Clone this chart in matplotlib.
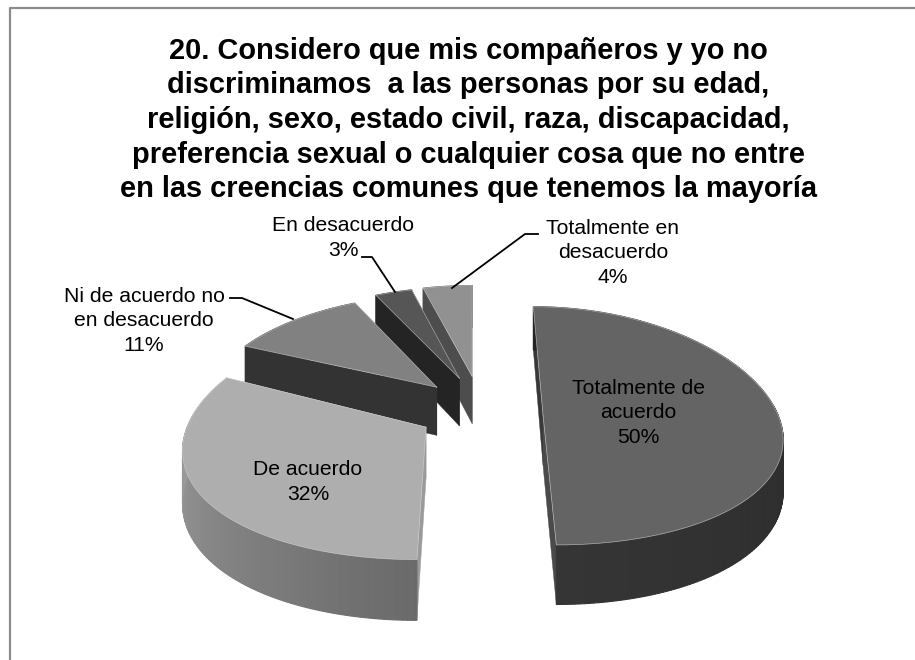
#!/usr/bin/env python
# -*- coding:utf-8 -*-
import numpy as np
import matplotlib
matplotlib.use('Agg')
import matplotlib.pyplot as plt
from matplotlib.patches import Polygon

plt.rcParams['font.family'] = ['Liberation Sans', 'DejaVu Sans']

title = ('20. Considero que mis compañeros y yo no\n'
         'discriminamos  a las personas por su edad,\n'
         'religión, sexo, estado civil, raza, discapacidad,\n'
         'preferencia sexual o cualquier cosa que no entre\n'
         'en las creencias comunes que tenemos la mayoría')

names = ['Totalmente de\nacuerdo', 'De acuerdo', 'Ni de acuerdo no\nen desacuerdo',
         'En desacuerdo', 'Totalmente en\ndesacuerdo']
values = [50, 32, 11, 3, 4]

# colores: cara superior, lado exterior (inicio, fin), cara de corte inicial y final
top_colors = ['#646464', '#aeaeae', '#818181', '#565656', '#919191']
side_from = ['#232323', '#6a6a6a', '#333333', '#242424', '#4d4d4d']
side_to = ['#353535', '#a8a8a8', '#333333', '#242424', '#4d4d4d']
cut_start = ['#383838', '#9a9a9a', '#333333', '#242424', '#4d4d4d']
cut_end = ['#4a4a4a', '#b8b8b8', '#333333', '#242424', '#a8a8a8']

label_pos = [(638, 413), (308, 482), (144, 321), (343, 238), (613, 253)]
rim_scale = [1.0, 1.0, 0.88, 0.88, 0.88]
explode_v = [0.34, 0.19, 0.34, 0.34, 0.34]

# parametros de la proyeccion
xv, y0 = 473.0, 415.0
radius = 235.0
u0 = 7.0
explode = 63.0
cy, cx = 0.091, 0.16
amp = 1298.0
depth = 50.0


def project(u, v, z=0.0):
    sx = 1.0 / (1.0 - cx * v)
    sy = 1.0 / (1.0 - cy * v)
    return xv + u * sx, y0 + amp * (sy - 1.0) + z * depth * sx


def mix(c1, c2, t):
    a = np.array(matplotlib.colors.to_rgb(c1))
    b = np.array(matplotlib.colors.to_rgb(c2))
    return tuple(a + (b - a) * t)


fig = plt.figure(figsize=(9.15, 6.6), dpi=100)
ax = fig.add_axes([0, 0, 1, 1])
ax.set_xlim(0, 915)
ax.set_ylim(660, 0)
ax.axis('off')

# marco del grafico, a la derecha y abajo queda fuera de la imagen
ax.plot([10, 10, 920], [665, 8, 8], color='#8c8c8c', lw=1.6)

edges = np.cumsum([0] + values) / sum(values) * 2 * np.pi
for i in [4, 3, 2, 1, 0]:
    a0, a1 = edges[i], edges[i + 1]
    mid = (a0 + a1) / 2
    cu = u0 + explode * np.sin(mid)
    cv = -explode_v[i] * np.cos(mid)
    th = np.linspace(a0, a1, max(int((a1 - a0) * 60), 8))
    u = cu + radius * np.sin(th)
    v = cv - rim_scale[i] * np.cos(th)

    # caras de corte, primero la mas lejana
    cuts = [(a0, cut_start[i]), (a1, cut_end[i])]
    cuts.sort(key=lambda c: -np.cos(c[0]))
    for a, col in cuts:
        ru, rv = cu + radius * np.sin(a), cv - rim_scale[i] * np.cos(a)
        pts = [project(cu, cv), project(ru, rv), project(ru, rv, 1), project(cu, cv, 1)]
        ax.add_patch(Polygon(pts, closed=True, fc=col, ec=col, lw=0.3))

    # lado exterior con degradado
    for k in range(len(th) - 1):
        t = k / max(len(th) - 2, 1)
        col = mix(side_from[i], side_to[i], t)
        pts = [project(u[k], v[k]), project(u[k + 1], v[k + 1]),
               project(u[k + 1], v[k + 1], 1), project(u[k], v[k], 1)]
        ax.add_patch(Polygon(pts, closed=True, fc=col, ec=col, lw=0.8))

    # cara superior
    xs, ys = project(np.r_[cu, u], np.r_[cv, v])
    ax.add_patch(Polygon(np.c_[xs, ys], closed=True, fc=top_colors[i], ec='none'))
    ax.plot(np.r_[xs, xs[0]], np.r_[ys, ys[0]], color='#d4d4d4', lw=0.5, alpha=0.7)

ax.text(468, 120, title, ha='center', va='center', fontsize=20.9,
        fontweight='bold', linespacing=1.3, color='black')

for name, val, (x, y) in zip(names, values, label_pos):
    ax.text(x, y, '%s\n%d%%' % (name, val), ha='center', va='center',
            fontsize=15.2, linespacing=1.38, color='black')

# lineas guia
ax.plot([230, 242, 293], [298, 298, 319], color='black', lw=1.3)
ax.plot([362, 372, 395], [257, 257, 292], color='black', lw=1.3)
ax.plot([538, 525, 452], [234, 234, 288], color='black', lw=1.3)

fig.savefig('out.png', dpi=100)
